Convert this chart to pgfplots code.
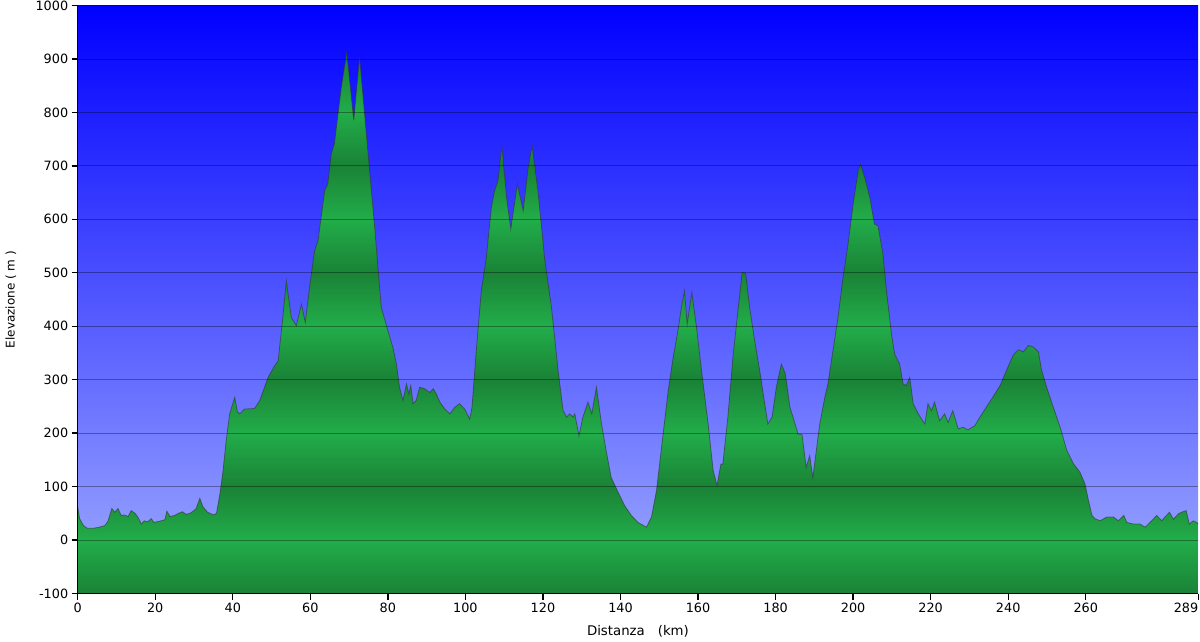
\documentclass[border=0pt]{standalone}
\usepackage{fontspec}
\setmainfont{DejaVu Sans}
\usepackage{pgfplots}
\usepackage{pgfplotstable}
\pgfplotsset{compat=1.18}
\definecolor{glight}{RGB}{34,173,74}
\definecolor{gdark}{RGB}{26,130,54}
\definecolor{skytop}{RGB}{0,0,255}
\definecolor{skybot}{RGB}{160,172,255}
% bands: light at even hundreds, dark at odd hundreds; path bbox spans -100..912
\pgfdeclareverticalshading{greenbands}{100bp}{color(0bp)=(gdark); color(25bp)=(gdark); color(29.941bp)=(glight); color(34.881bp)=(gdark); color(39.822bp)=(glight); color(44.763bp)=(gdark); color(49.704bp)=(glight); color(54.644bp)=(gdark); color(59.585bp)=(glight); color(64.526bp)=(gdark); color(69.466bp)=(glight); color(74.407bp)=(gdark); color(79.348bp)=(glight); color(100bp)=(glight)}

\pgfplotstableread{
x y
0 -100
0 62
0.5 40
1.5 27
2.5 22
4 22
5.5 24
7 27
7.8 35
8.8 59
9.6 52
10.4 59
11.2 46
12 47
13 44
13.8 55
14.8 50
15.6 42
16.4 30
17.2 36
18 34
19 40
19.6 33
21 35
22.5 38
23 54
23.8 44
25 46
26 50
27 53
28 48
29 50
30.5 58
31.5 78
32.3 62
33.5 52
35 47
35.8 50
36.7 87
37.5 130
38.3 186
39.2 236
40.5 267
41.2 240
41.8 236
43 245
45.6 246
46.9 260
49.1 304
50.8 326
51.7 335
52.9 416
53.8 485
55.1 416
56.4 401
57.7 441
58.7 407
59.8 473
61.1 541
62 560
63.7 654
64.5 666
65.4 722
66.2 741
68 847
69.4 912
71.2 785
72.7 903
74.9 722
76.6 585
77.5 504
78.3 435
80.0 392
81.3 360
82.2 329
83.0 286
83.9 261
84.8 292
85.4 273
85.9 289
86.5 255
87.3 261
88.2 286
89.5 283
90.8 276
91.7 283
92.5 273
93.4 258
94.7 245
96.0 236
97.2 248
98.5 255
99.8 245
101.1 226
101.7 248
102.8 354
104.1 466
105.4 529
106.7 622
107.5 653
108.4 672
109.4 737
110.6 641
111.7 582
113.4 666
114.9 616
116.2 697
117.2 737
118.7 653
120.5 522
122.2 435
123.9 317
125.2 242
126.1 230
126.9 236
127.8 230
128.2 236
129.3 195
130.3 230
131.6 258
132.6 236
133.8 286
135.1 217
136.3 167
137.6 117
139.4 89
141.1 64
142.8 46
144.5 33
146.7 24
148.0 43
149.3 93
150.6 174
152.3 279
153.6 342
154.9 395
155.7 435
156.5 466
157.2 404
158.4 463
159.6 398
160.9 317
162.6 217
163.9 130
164.9 102
165.9 142
166.4 142
167.7 230
169.0 342
170.3 429
171.4 501
172.3 498
173.3 435
174.6 373
175.9 317
177.2 255
178.0 217
179.1 230
180.2 286
181.5 329
182.5 311
183.7 248
184.5 230
185.8 198
186.8 198
187.9 136
188.8 158
189.6 117
190.5 167
191.4 217
192.7 267
193.5 292
194.8 354
196.1 416
197.4 491
198.7 554
200.0 628
201.3 691
201.9 703
203.0 678
204.3 641
205.5 591
206.4 588
207.7 535
208.6 466
209.9 385
210.7 348
212.0 329
212.9 292
213.7 289
214.6 304
215.5 255
216.8 236
218.5 217
219.3 255
220.2 242
221.0 258
222.3 223
223.6 236
224.5 220
225.7 242
227.1 208
228.4 211
229.6 206
231.4 214
232.7 230
234.4 249
236.1 268
237.9 289
239.6 318
241.3 346
242.6 356
243.9 352
245.2 364
246.5 361
247.8 352
248.6 318
249.9 286
251.6 249
253.4 211
255.1 168
256.8 143
258.5 127
259.8 105
260.7 74
261.6 46
262.4 40
263.7 36
265.4 43
267.2 43
268.4 36
269.8 46
270.6 33
272.3 30
274.0 30
275.3 24
277.0 36
278.3 46
279.6 36
280.4 43
281.6 52
282.6 39
283.9 49
284.7 52
285.9 55
286.7 30
287.7 36
288.6 33
289 30
289 -100
}\profile

\begin{document}
\begin{tikzpicture}
\begin{axis}[
  at={(0pt,0pt)}, anchor=south west,
  scale only axis, width=1120.5pt, height=588pt,
  xmin=0, xmax=289, ymin=-100, ymax=1000,
  axis lines*=left,
  axis line style={line width=1.6pt, black},
  xtick={0,20,40,60,80,100,120,140,160,180,200,220,240,260,289},
  xticklabels={0,20,40,60,80,100,120,140,160,180,200,220,240,260,\llap{289}},
  ytick={-100,0,100,200,300,400,500,600,700,800,900,1000},
  yticklabels={-100,0,100,200,300,400,500,600,700,800,900,1000},
  tick align=outside,
  major tick length=6pt,
  major tick style={line width=1.3pt, black},
  ymajorgrids,
  grid style={black, opacity=0.35, line width=0.8pt},
  axis on top,
  axis background/.style={shade, top color=skytop, bottom color=skybot},
  tick label style={font=\fontsize{12.8}{15}\selectfont},
  xlabel={Distanza\hspace{13pt}(km)},
  ylabel={Elevazione ( m )},
  xlabel style={at={(axis description cs:0.5,-0.0638)}, anchor=center, font=\fontsize{13.3}{16}\selectfont},
  ylabel style={at={(axis description cs:-0.0597,0.5)}, anchor=center, font=\fontsize{12}{14}\selectfont},
]
\addplot[draw=none, shading=greenbands] table {\profile} -- cycle;
\addplot[draw=black!80, line width=0.8pt, opacity=0.6, y filter/.expression={y<-99 ? nan : y}] table {\profile};
\end{axis}
\pgfresetboundingbox
\path[use as bounding box] (-77.7pt,-47.5pt) rectangle (1122.3pt,593.5pt);
\end{tikzpicture}
\end{document}
